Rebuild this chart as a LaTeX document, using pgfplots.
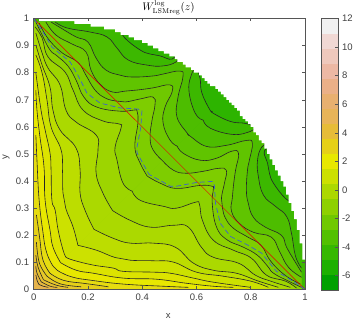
\documentclass[border=0pt]{standalone}
\usepackage[no-math]{fontspec}
\setmainfont{Liberation Sans}
\usepackage{pgfplots}
\usepackage{pgfplotstable}
\pgfplotsset{compat=1.18}

% band colours of the filled contours, outermost first
\definecolor{fa}{HTML}{2DB400}
\definecolor{fb}{HTML}{3CB800}
\definecolor{fc}{HTML}{4DBD00}
\definecolor{fd}{HTML}{60C400}
\definecolor{fe}{HTML}{6FC800}
\definecolor{ff}{HTML}{7ECD00}
\definecolor{fg}{HTML}{8DD100}
\definecolor{fh}{HTML}{9DD500}
\definecolor{fi}{HTML}{ABD900}
\definecolor{fj}{HTML}{BCDD00}
\definecolor{fk}{HTML}{CCE100}
\definecolor{fl}{HTML}{DCE300}
\definecolor{fm}{HTML}{E8E800}
\definecolor{fn}{HTML}{E6DC10}
\definecolor{fo}{HTML}{E5D018}
\definecolor{fp}{HTML}{E5C828}
\definecolor{fq}{HTML}{E5C030}
\definecolor{fr}{HTML}{E5B840}
\definecolor{fs}{HTML}{E6B44C}
\definecolor{dashblue}{HTML}{3F5FD0}
\definecolor{framegray}{HTML}{555555}
\definecolor{labelgray}{HTML}{404040}

% contours: upper half only, from the top left down to the line y=x
\pgfplotstableread{
x y
.32 .96
.336 .928
.392 .884
.429 .869
.466 .862
.51 .85
.53 .88
}\cLobeA
\pgfplotstableread{
x y
.60 .82
.613 .780
.620 .725
.650 .662
.658 .658
}\cLobeB
\pgfplotstableread{
x y
.079 .987
.123 .965
.208 .950
.270 .932
.307 .891
.348 .847
.418 .828
.477 .825
.525 .840
.55 .87
.60 .83
.5835 .799
.572 .736
.595 .651
.625 .625
}\cTwo
\pgfplotstableread{
x y
.064 .987
.100 .965
.156 .932
.200 .913
.230 .854
.266 .810
.318 .791
.366 .784
.440 .788
.477 .795
.539 .806
.550 .784
.532 .710
.528 .637
.565 .578
.571 .571
}\cThree
\pgfplotstableread{
x y
.045 .987
.082 .939
.141 .906
.193 .876
.211 .810
.244 .758
.289 .729
.337 .732
.381 .736
.440 .744
.502 .755
.510 .729
.484 .673
.477 .614
.502 .552
.529 .529
}\cFour
\pgfplotstableread{
x y
.020 .983
.053 .926
.104 .874
.163 .838
.193 .790
.226 .736
.263 .707
.300 .696
.337 .692
.392 .703
.440 .710
.447 .681
.436 .624
.429 .561
.440 .515
.475 .475
}\cFive
\pgfplotstableread{
x y
.008 .987
.031 .939
.060 .884
.086 .862
.126 .825
.156 .773
.185 .710
.233 .673
.318 .658
.370 .662
.381 .658
.384 .614
.373 .526
.392 .467
.418 .419
}\cSix
\pgfplotstableread{
x y
.005 .969
.031 .928
.053 .858
.115 .803
.145 .736
.182 .662
.255 .622
.314 .611
.322 .596
.300 .526
.307 .478
.329 .393
.363 .363
}\cSeven
\pgfplotstableread{
x y
.008 .946
.031 .873
.053 .817
.097 .755
.119 .662
.156 .618
.230 .570
.237 .515
.230 .430
.255 .356
.291 .291
}\cEight
\pgfplotstableread{
x y
.008 .902
.031 .828
.060 .747
.071 .662
.097 .589
.156 .522
.171 .441
.171 .356
.189 .293
.222 .222
}\cNine
\pgfplotstableread{
x y
.008 .865
.031 .799
.049 .699
.064 .600
.101 .515
.106 .440
.108 .356
.118 .300
.145 .231
.163 .163
}\cTen
\pgfplotstableread{
x y
.008 .799
.027 .662
.042 .589
.060 .504
.064 .441
.067 .330
.079 .293
.090 .220
.108 .146
.119 .119
}\cEleven
\pgfplotstableread{
x y
.008 .736
.012 .662
.023 .563
.038 .452
.042 .330
.060 .220
.071 .157
.099 .099
}\cTwelve
\pgfplotstableread{
x y
.008 .570
.012 .478
.020 .330
.034 .212
.045 .146
.064 .098
.079 .079
}\cThirteen
\pgfplotstableread{
x y
.010 .275
.018 .220
.023 .183
.034 .109
.060 .060
}\cFourteen
\pgfplotstableread{
x y
.010 .175
.016 .120
.027 .083
.049 .049
}\cFifteen
\pgfplotstableread{
x y
.008 .127
.016 .083
.036 .036
}\cSixteen
\pgfplotstableread{
x y
.008 .087
.012 .061
.028 .028
}\cSeventeen
\pgfplotstableread{
x y
.008 .054
.012 .035
.019 .019
}\cEighteen
% the other curve, dashed
\pgfplotstableread{
x y
0 1
.012 .983
.034 .950
.067 .895
.090 .876
.134 .840
.163 .791
.196 .725
.244 .688
.318 .670
.384 .666
.399 .659
.395 .600
.381 .526
.381 .504
.425 .425
}\cDash
% upper limit of the domain, on its grid
\pgfplotstableread{
x y
0 1
.02 .99
.15 .98
.21 .97
.26 .96
.30 .95
.32 .94
.35 .93
.37 .92
.40 .91
.42 .90
.44 .89
.46 .88
.48 .87
.50 .86
.52 .85
.53 .84
.55 .83
.56 .82
.58 .81
.59 .80
.61 .79
.62 .78
.63 .77
.64 .76
.65 .75
.67 .74
.68 .73
.69 .72
.70 .71
.71 .70
.72 .69
.73 .68
.74 .67
.75 .66
.76 .64
.77 .63
.78 .62
.79 .61
.80 .60
.81 .58
.82 .57
.83 .55
.84 .54
.85 .52
.86 .50
.87 .48
.88 .46
.89 .44
.90 .42
.91 .40
.92 .38
.93 .35
.94 .32
.95 .29
.96 .26
.97 .22
.98 .17
.99 .11
1 0
}\cArc

\newcommand{\band}[3]{%
  \addplot[smooth,tension=.75,fill=#2,draw=#2,line width=.3pt] table[x=x,y=y]{#1} -- (axis cs:0,0) -- (axis cs:0,#3) -- cycle;
  \addplot[smooth,tension=.75,fill=#2,draw=#2,line width=.3pt] table[x=y,y=x]{#1} -- (axis cs:0,0) -- (axis cs:#3,0) -- cycle;
}
\newcommand{\contour}[1]{%
  \addplot[smooth,tension=.75,black!85,line width=.6pt] table[x=x,y=y]{#1};
  \addplot[smooth,tension=.75,black!85,line width=.6pt] table[x=y,y=x]{#1};
}

\begin{document}
\begin{tikzpicture}
\path[use as bounding box] (-33.7pt,-30.5pt) rectangle (320.3pt,289.5pt);
\begin{axis}[at={(0pt,0pt)}, anchor=south west, scale only axis, width=271.3pt, height=271pt,
  xmin=0, xmax=1, ymin=0, ymax=1,
  xtick={0,0.2,0.4,0.6,0.8,1}, ytick={0,0.1,0.2,0.3,0.4,0.5,0.6,0.7,0.8,0.9,1},
  /pgf/number format/assume math mode=true,
  tick label style={font=\fontsize{9.5}{11}\selectfont, text=labelgray},
  axis line style={draw=framegray, line width=.6pt},
  tick style={draw=framegray, line width=.5pt},
  major tick length=3pt, tick align=inside,
  xticklabel style={yshift=-1pt}, yticklabel style={xshift=-1pt},
  xlabel={x}, ylabel={y},
  every axis x label/.style={at={(axis cs:.496,0)},anchor=center,yshift=-26.5pt,font=\fontsize{9.5}{11}\selectfont,text=labelgray},
  every axis y label/.style={at={(axis cs:0,.49)},xshift=-27.5pt,rotate=90,anchor=center,font=\fontsize{9.5}{11}\selectfont,text=labelgray},
  title={$W^{\log}_{\mathrm{LSMreg}}(z)$},
  every axis title/.style={at={(axis cs:.497,1)},anchor=south,yshift=.5pt,font=\fontsize{10.5}{12}\selectfont},
  axis on top]

% filled bands
\addplot[fill=fb,draw=none] coordinates {(0,0)(1,0)(1,1)(0,1)} -- cycle;
\addplot[smooth,tension=.75,fill=fa,draw=fa,line width=.3pt] table[x=x,y=y]{\cLobeA} -- cycle;
\addplot[smooth,tension=.75,fill=fa,draw=fa,line width=.3pt] table[x=y,y=x]{\cLobeA} -- cycle;
\addplot[smooth,tension=.75,fill=fa,draw=fa,line width=.3pt] table[x=x,y=y]{\cLobeB} -- (axis cs:.76,.76) -- cycle;
\addplot[smooth,tension=.75,fill=fa,draw=fa,line width=.3pt] table[x=y,y=x]{\cLobeB} -- (axis cs:.76,.76) -- cycle;
\band{\cTwo}{fc}{.987}
\band{\cThree}{fd}{.987}
\band{\cFour}{fe}{.987}
\band{\cFive}{ff}{.983}
\band{\cSix}{fg}{.987}
\band{\cSeven}{fh}{.969}
\band{\cEight}{fi}{.946}
\band{\cNine}{fj}{.902}
\band{\cTen}{fk}{.865}
\band{\cEleven}{fl}{.799}
\band{\cTwelve}{fm}{.736}
\band{\cThirteen}{fn}{.570}
\band{\cFourteen}{fo}{.275}
\band{\cFifteen}{fp}{.175}
\band{\cSixteen}{fq}{.127}
\band{\cSeventeen}{fr}{.087}
\band{\cEighteen}{fs}{.054}

% contour lines
\contour{\cLobeA}
\contour{\cLobeB}
\contour{\cTwo}
\contour{\cThree}
\contour{\cFour}
\contour{\cFive}
\contour{\cSix}
\contour{\cSeven}
\contour{\cEight}
\contour{\cNine}
\contour{\cTen}
\contour{\cEleven}
\contour{\cTwelve}
\contour{\cThirteen}
\contour{\cFourteen}
\contour{\cFifteen}
\contour{\cSixteen}
\contour{\cSeventeen}
\contour{\cEighteen}

% outside the domain
\addplot[const plot,fill=white,draw=none] table[x=x,y=y]{\cArc} -- (axis cs:1.01,0) -- (axis cs:1.01,1.01) -- (axis cs:0,1.01) -- cycle;

\addplot[red!90!black,line width=.45pt] coordinates {(0,1)(1,0)};
\addplot[dashblue,line width=.7pt,dash pattern=on 5pt off 3pt] table[x=x,y=y]{\cDash};
\addplot[dashblue,line width=.7pt,dash pattern=on 5pt off 3pt] table[x=y,y=x]{\cDash};
\end{axis}

% colour bar
\begin{axis}[at={(287.8pt,-.5pt)}, anchor=south west, scale only axis, width=16.5pt, height=271.5pt,
  xmin=0, xmax=1, ymin=-7, ymax=12, xtick=\empty,
  ytick={-6,-4,-2,0,2,4,6,8,10,12},
  ytick pos=right, yticklabel pos=right,
  /pgf/number format/assume math mode=true,
  tick label style={font=\fontsize{9.5}{11}\selectfont, text=labelgray},
  yticklabel style={xshift=.5pt},
  axis line style={draw=framegray, line width=.6pt},
  tick style={draw=framegray, line width=.5pt},
  major tick length=3pt, tick align=inside, axis on top]
\addplot[fill={rgb,255:red,0;green,160;blue,0},draw=none] coordinates {(0,-7)(1,-7)(1,-5.944)(0,-5.944)} -- cycle;
\addplot[fill={rgb,255:red,28;green,176;blue,0},draw=none] coordinates {(0,-5.944)(1,-5.944)(1,-4.889)(0,-4.889)} -- cycle;
\addplot[fill={rgb,255:red,54;green,184;blue,0},draw=none] coordinates {(0,-4.889)(1,-4.889)(1,-3.833)(0,-3.833)} -- cycle;
\addplot[fill={rgb,255:red,82;green,192;blue,0},draw=none] coordinates {(0,-3.833)(1,-3.833)(1,-2.778)(0,-2.778)} -- cycle;
\addplot[fill={rgb,255:red,112;green,200;blue,0},draw=none] coordinates {(0,-2.778)(1,-2.778)(1,-1.722)(0,-1.722)} -- cycle;
\addplot[fill={rgb,255:red,142;green,208;blue,0},draw=none] coordinates {(0,-1.722)(1,-1.722)(1,-0.667)(0,-0.667)} -- cycle;
\addplot[fill={rgb,255:red,172;green,216;blue,0},draw=none] coordinates {(0,-0.667)(1,-0.667)(1,0.389)(0,0.389)} -- cycle;
\addplot[fill={rgb,255:red,204;green,224;blue,0},draw=none] coordinates {(0,0.389)(1,0.389)(1,1.444)(0,1.444)} -- cycle;
\addplot[fill={rgb,255:red,232;green,232;blue,0},draw=none] coordinates {(0,1.444)(1,1.444)(1,2.5)(0,2.5)} -- cycle;
\addplot[fill={rgb,255:red,230;green,208;blue,24},draw=none] coordinates {(0,2.5)(1,2.5)(1,3.556)(0,3.556)} -- cycle;
\addplot[fill={rgb,255:red,230;green,188;blue,56},draw=none] coordinates {(0,3.556)(1,3.556)(1,4.611)(0,4.611)} -- cycle;
\addplot[fill={rgb,255:red,232;green,180;blue,88},draw=none] coordinates {(0,4.611)(1,4.611)(1,5.667)(0,5.667)} -- cycle;
\addplot[fill={rgb,255:red,232;green,176;blue,112},draw=none] coordinates {(0,5.667)(1,5.667)(1,6.722)(0,6.722)} -- cycle;
\addplot[fill={rgb,255:red,234;green,176;blue,136},draw=none] coordinates {(0,6.722)(1,6.722)(1,7.778)(0,7.778)} -- cycle;
\addplot[fill={rgb,255:red,236;green,184;blue,164},draw=none] coordinates {(0,7.778)(1,7.778)(1,8.833)(0,8.833)} -- cycle;
\addplot[fill={rgb,255:red,238;green,200;blue,188},draw=none] coordinates {(0,8.833)(1,8.833)(1,9.889)(0,9.889)} -- cycle;
\addplot[fill={rgb,255:red,240;green,216;blue,212},draw=none] coordinates {(0,9.889)(1,9.889)(1,10.944)(0,10.944)} -- cycle;
\addplot[fill={rgb,255:red,240;green,240;blue,240},draw=none] coordinates {(0,10.944)(1,10.944)(1,12)(0,12)} -- cycle;
\end{axis}
\end{tikzpicture}
\end{document}
